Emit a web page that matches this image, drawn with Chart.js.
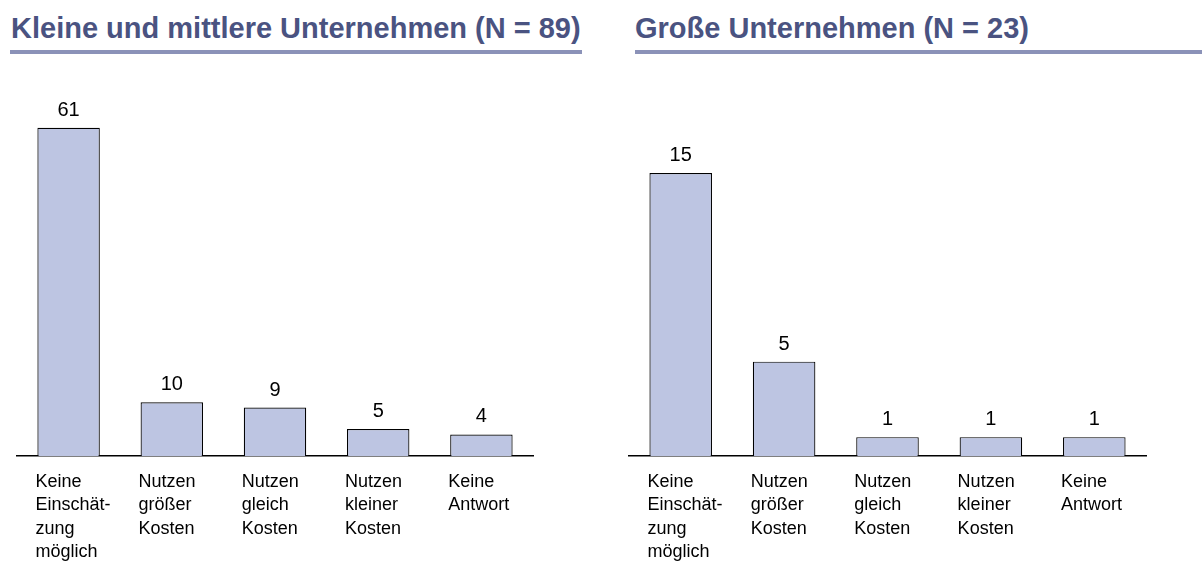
<!DOCTYPE html>
<html>
<head>
<meta charset="utf-8">
<script src="https://cdn.jsdelivr.net/npm/chart.js@4"></script>
<style>
  body { margin: 0; background: #fff; width: 1202px; height: 562px; position: relative; overflow: hidden; }
  .title { position: absolute; top: 14px; font: bold 29px/29px "Liberation Sans", Arial, sans-serif; color: #4a5381; white-space: nowrap; }
  .rule { position: absolute; top: 50px; height: 4px; background: #8b92b8; }
  .box { position: absolute; top: 0; height: 562px; }
</style>
</head>
<body>
<div class="title" style="left:11px">Kleine und mittlere Unternehmen (N = 89)</div>
<div class="rule" style="left:10px; width:572px"></div>
<div class="title" style="left:635px">Große Unternehmen (N = 23)</div>
<div class="rule" style="left:635px; width:567px"></div>

<div class="box" style="left:0; width:600px"><canvas id="kmuChart" width="600" height="562"></canvas></div>
<div class="box" style="left:600px; width:602px"><canvas id="grossChart" width="602" height="562"></canvas></div>

<script>
// categories (line breaks as in the original)
const categories = [
  ["Keine", "Einschät-", "zung", "möglich"],
  ["Nutzen", "größer", "Kosten"],
  ["Nutzen", "gleich", "Kosten"],
  ["Nutzen", "kleiner", "Kosten"],
  ["Keine", "Antwort"]
];
const kmuValues = [61, 10, 9, 5, 4];
const grossValues = [15, 5, 1, 1, 1];

const FONT = '"Liberation Sans", Arial, sans-serif';

// draws value above each bar and the multi-line category labels under the axis
const labelPlugin = {
  id: "barLabels",
  afterDatasetsDraw(chart) {
    const ctx = chart.ctx;
    const meta = chart.getDatasetMeta(0);
    const data = chart.data.datasets[0].data;
    const axisY = chart.scales.y.getPixelForValue(0);
    ctx.save();
    ctx.fillStyle = "#000";
    ctx.textBaseline = "alphabetic";
    meta.data.forEach((bar, i) => {
      ctx.font = "20px " + FONT;
      ctx.textAlign = "center";
      ctx.fillText(String(data[i]), bar.x, bar.y - 12);
      ctx.font = "18px " + FONT;
      ctx.textAlign = "left";
      const left = bar.x - bar.width / 2 - 2;
      categories[i].forEach((line, j) => {
        ctx.fillText(line, left, axisY + 31 + j * 23.4);
      });
    });
    ctx.restore();
  }
};

function makeChart(id, values, yMax, padLeft, padRight) {
  return new Chart(document.getElementById(id), {
    type: "bar",
    data: {
      labels: categories.map(c => c.join(" ")),
      datasets: [{
        data: values,
        backgroundColor: "#bdc5e2",
        borderColor: "#000",
        borderWidth: 1.2,
        categoryPercentage: 1,
        barPercentage: 0.605
      }]
    },
    options: {
      responsive: false,
      animation: false,
      layout: { padding: { left: padLeft, right: padRight, top: 90, bottom: 106 } },
      plugins: { legend: { display: false }, tooltip: { enabled: false } },
      scales: {
        x: {
          grid: { display: false, drawTicks: false },
          border: { display: true, color: "#000", width: 1.5 },
          ticks: { display: false }
        },
        y: { display: false, min: 0, max: yMax }
      }
    },
    plugins: [labelPlugin]
  });
}

makeChart("kmuChart", kmuValues, 68, 17, 67);
makeChart("grossChart", grossValues, 19.4, 29, 56);
</script>
</body>
</html>
